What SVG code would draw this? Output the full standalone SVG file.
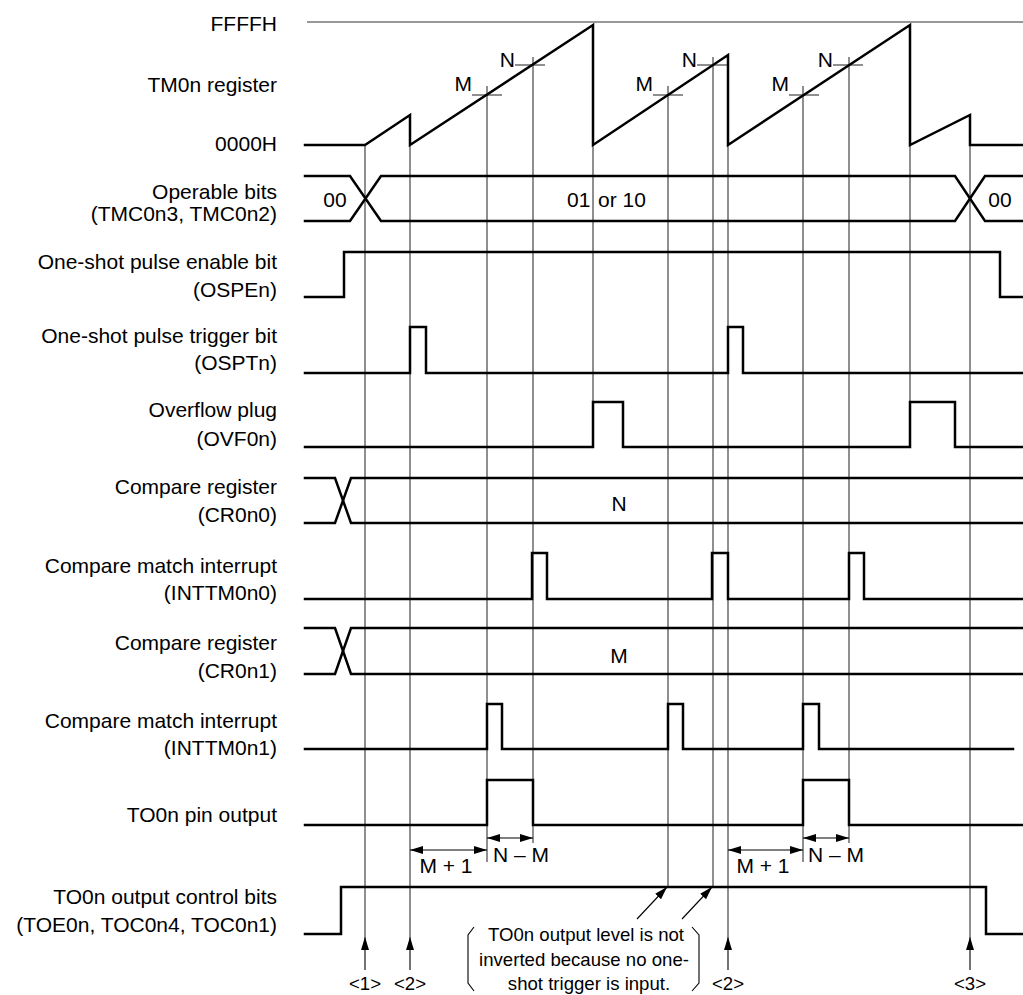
<svg xmlns="http://www.w3.org/2000/svg" width="1023" height="995" viewBox="0 0 1023 995">
<style>
text{font-family:"Liberation Sans",Arial,sans-serif;font-size:21px;fill:#000}
.l{text-anchor:end}
.c{text-anchor:middle}
.n{font-size:18.6px}
.s{fill:none;stroke:#000;stroke-width:2.5;stroke-linejoin:miter;stroke-linecap:square}
.g{fill:none;stroke:#333;stroke-width:1.1}
.a{fill:none;stroke:#000;stroke-width:1.1}
</style>
<defs>
<marker id="ah" viewBox="0 0 13 8" refX="13" refY="4" markerWidth="13" markerHeight="8" orient="auto-start-reverse" markerUnits="userSpaceOnUse"><path d="M0,0 L13,4 L0,8 z" fill="#000"/></marker>
</defs>
<rect width="1023" height="995" fill="#fff"/>

<g id="connectors">
<line class="g" x1="307" y1="22" x2="1023" y2="22"/>
<line class="g" x1="365" y1="145" x2="365" y2="937"/>
<line class="g" x1="410" y1="145" x2="410" y2="937"/>
<line class="g" x1="487" y1="86" x2="487" y2="862"/>
<line class="g" x1="533" y1="57" x2="533" y2="843"/>
<line class="g" x1="593" y1="145" x2="593" y2="402"/>
<line class="g" x1="668" y1="86" x2="668" y2="886"/>
<line class="g" x1="713" y1="57" x2="713" y2="886"/>
<line class="g" x1="728" y1="145" x2="728" y2="937"/>
<line class="g" x1="803" y1="86" x2="803" y2="862"/>
<line class="g" x1="849" y1="57" x2="849" y2="843"/>
<line class="g" x1="910" y1="145" x2="910" y2="402"/>
<line class="g" x1="970" y1="145" x2="970" y2="937"/>
<!-- M / N ticks -->
<line class="g" x1="472" y1="95" x2="502" y2="95"/>
<line class="g" x1="515" y1="65" x2="545" y2="65"/>
<line class="g" x1="653" y1="95" x2="683" y2="95"/>
<line class="g" x1="697" y1="65" x2="729" y2="65"/>
<line class="g" x1="789" y1="95" x2="819" y2="95"/>
<line class="g" x1="833" y1="65" x2="863" y2="65"/>
<!-- dimension arrows -->
<line class="a" x1="410" y1="850" x2="487" y2="850" marker-start="url(#ah)" marker-end="url(#ah)"/>
<line class="a" x1="487" y1="838" x2="533" y2="838" marker-start="url(#ah)" marker-end="url(#ah)"/>
<line class="a" x1="728" y1="850" x2="803" y2="850" marker-start="url(#ah)" marker-end="url(#ah)"/>
<line class="a" x1="803" y1="838" x2="849" y2="838" marker-start="url(#ah)" marker-end="url(#ah)"/>
<!-- bottom point arrows -->
<line class="a" x1="365" y1="970" x2="365" y2="937" marker-end="url(#ah)"/>
<line class="a" x1="410" y1="970" x2="410" y2="937" marker-end="url(#ah)"/>
<line class="a" x1="728" y1="970" x2="728" y2="937" marker-end="url(#ah)"/>
<line class="a" x1="970" y1="970" x2="970" y2="937" marker-end="url(#ah)"/>
<!-- note arrows -->
<line class="a" x1="637" y1="919" x2="667" y2="887" marker-end="url(#ah)"/>
<line class="a" x1="682" y1="919" x2="712" y2="887" marker-end="url(#ah)"/>
</g>

<g id="tm0n">
<text class="l" x="277" y="31">FFFFH</text>
<text class="l" x="277" y="92">TM0n register</text>
<text class="l" x="277" y="151">0000H</text>
<path class="s" d="M305,145 H365 L410,115 V145 L593,25 V145 L728,55 V145 L910,25 V145 L970,115 V145 H1023"/>
<text class="l" x="472" y="91">M</text>
<text class="l" x="515" y="67">N</text>
<text class="l" x="653" y="91">M</text>
<text class="l" x="697" y="67">N</text>
<text class="l" x="789" y="91">M</text>
<text class="l" x="833" y="67">N</text>
</g>

<g id="operable">
<text class="l" x="277" y="199">Operable bits</text>
<text class="l" x="277" y="221">(TMC0n3, TMC0n2)</text>
<path class="s" d="M305,176 H350 L381,221 H955 L985,176 H1023"/>
<path class="s" d="M305,221 H350 L381,176 H955 L985,221 H1023"/>
<text class="c" x="335" y="207">00</text>
<text x="567" y="207">01</text>
<text x="598" y="207">or 10</text>
<text class="c" x="1000" y="207">00</text>
</g>

<g id="ospen">
<text class="l" x="277" y="269">One-shot pulse enable bit</text>
<text class="l" x="277" y="297">(OSPEn)</text>
<path class="s" d="M305,297 H344 V252 H1000 V297 H1023"/>
</g>

<g id="osptn">
<text class="l" x="277" y="343">One-shot pulse trigger bit</text>
<text class="l" x="277" y="370">(OSPTn)</text>
<path class="s" d="M305,373 H410 V327 H426 V373 H728 V327 H743 V373 H1023"/>
</g>

<g id="ovf0n">
<text class="l" x="277" y="417">Overflow plug</text>
<text class="l" x="277" y="446">(OVF0n)</text>
<path class="s" d="M305,447 H593 V402 H623 V447 H910 V402 H955 V447 H1023"/>
</g>

<g id="cr0n0">
<text class="l" x="277" y="494">Compare register</text>
<text class="l" x="277" y="522">(CR0n0)</text>
<path class="s" d="M305,478 H335 L351,523 H1023"/>
<path class="s" d="M305,523 H335 L351,478 H1023"/>
<text class="c" x="619" y="511">N</text>
</g>

<g id="inttm0n0">
<text class="l" x="277" y="573">Compare match interrupt</text>
<text class="l" x="277" y="600">(INTTM0n0)</text>
<path class="s" d="M305,599 H532 V553 H547 V599 H712 V553 H728 V599 H849 V553 H864 V599 H1023"/>
</g>

<g id="cr0n1">
<text class="l" x="277" y="650">Compare register</text>
<text class="l" x="277" y="678">(CR0n1)</text>
<path class="s" d="M305,628 H335 L351,674 H1023"/>
<path class="s" d="M305,674 H335 L351,628 H1023"/>
<text class="c" x="619" y="663">M</text>
</g>

<g id="inttm0n1">
<text class="l" x="277" y="728">Compare match interrupt</text>
<text class="l" x="277" y="755">(INTTM0n1)</text>
<path class="s" d="M305,749 H487 V704 H502 V749 H668 V704 H683 V749 H803 V704 H819 V749 H1013"/>
</g>

<g id="to0n">
<text class="l" x="277" y="822">TO0n pin output</text>
<path class="s" d="M305,825 H487 V780 H533 V825 H803 V780 H849 V825 H1023"/>
<text class="c" x="446" y="873">M + 1</text>
<text class="c" x="521" y="862">N – M</text>
<text class="c" x="763" y="873">M + 1</text>
<text class="c" x="836" y="862">N – M</text>
</g>

<g id="toctrl">
<text class="l" x="277" y="904">TO0n output control bits</text>
<text class="l" x="277" y="932">(TOE0n, TOC0n4, TOC0n1)</text>
<path class="s" d="M305,934 H341 V887 H986 V934 H1023"/>
</g>

<g id="note">
<path class="a" d="M474,927 L468,935 V983 L474,991"/>
<path class="a" d="M692,927 L699,935 V983 L692,991"/>
<text class="c n" x="586" y="941">TO0n output level is not</text>
<text class="c n" x="584" y="966">inverted because no one-</text>
<text class="c n" x="589" y="990">shot trigger is input.</text>
</g>

<g id="points">
<text class="c n" x="365" y="990">&lt;1&gt;</text>
<text class="c n" x="410" y="990">&lt;2&gt;</text>
<text class="c n" x="728" y="990">&lt;2&gt;</text>
<text class="c n" x="970" y="990">&lt;3&gt;</text>
</g>
</svg>
